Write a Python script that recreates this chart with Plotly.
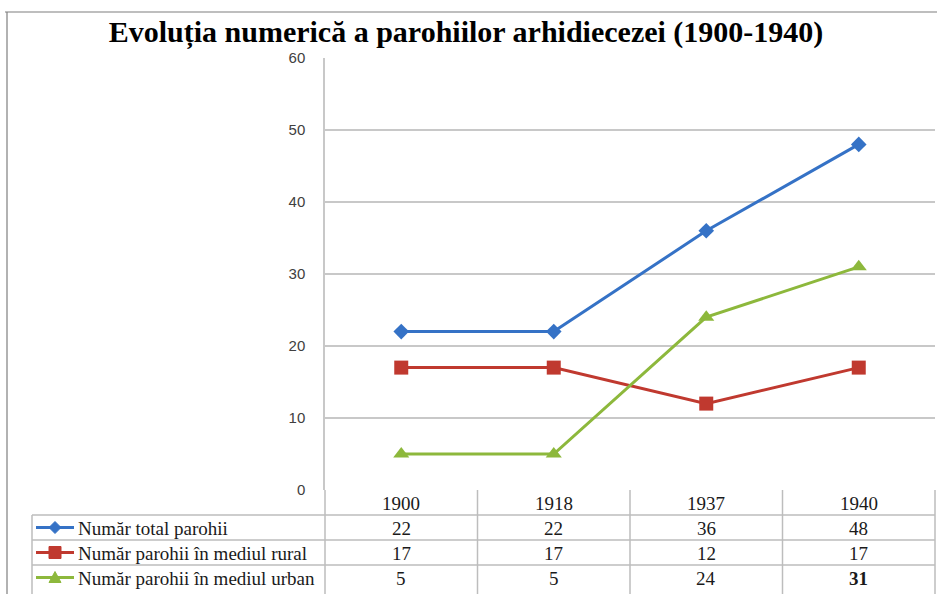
import plotly.graph_objects as go

categories = ["1900", "1918", "1937", "1940"]
series_names = ["Număr total parohii", "Număr parohii în mediul rural", "Număr parohii în mediul urban"]
total = [22, 22, 36, 48]
rural = [17, 17, 12, 17]
urban = [5, 5, 24, 31]
y_ticks = [0, 10, 20, 30, 40, 50, 60]

series = [total, rural, urban]
colors = ["#3572C6", "#C0392F", "#8DB83C"]
symbols = ["diamond", "square", "triangle-up"]
msizes = [12, 14, 14]

W, H = 937, 594
L, R, T, B = 325, 935, 58, 490  # plot area pixels
pw, ph = R - L, B - T

def px(x):
    return (x - L) / pw

def py(y):
    return (B - y) / ph

xpos = [i + 0.5 for i in range(len(categories))]

fig = go.Figure()
for name, vals, c, s, ms in zip(series_names, series, colors, symbols, msizes):
    fig.add_trace(go.Scatter(
        x=xpos, y=vals, mode="lines+markers", name=name,
        line=dict(color=c, width=3),
        marker=dict(symbol=s, size=ms, color=c),
        showlegend=False, cliponaxis=False,
    ))

row_h = 25
rows_top = [B + row_h * (i + 1) for i in range(3)]

shapes = []
gray = "#BDBDBD"
# outer frame
shapes.append(dict(type="line", xref="paper", yref="paper", x0=px(5), x1=px(937), y0=py(12), y1=py(12), line=dict(color="#7F7F7F", width=1.2)))
shapes.append(dict(type="line", xref="paper", yref="paper", x0=px(7), x1=px(7), y0=py(12), y1=py(594), line=dict(color="#7F7F7F", width=1.2)))
# table vertical lines
col_w = pw / len(categories)
for i in range(len(categories) + 1):
    xx = L + col_w * i
    shapes.append(dict(type="line", xref="paper", yref="paper", x0=px(xx), x1=px(xx), y0=py(B), y1=py(594), line=dict(color=gray, width=1.5)))
shapes.append(dict(type="line", xref="paper", yref="paper", x0=px(32), x1=px(32), y0=py(rows_top[0]), y1=py(594), line=dict(color=gray, width=1.5)))
for yy in rows_top:
    shapes.append(dict(type="line", xref="paper", yref="paper", x0=px(32), x1=px(R), y0=py(yy), y1=py(yy), line=dict(color=gray, width=1.5)))

# legend keys (line + marker) in the table
marker_paths = [
    "M 0 6 L 6 0 L 0 -6 L -6 0 Z",
    "M -6 -6 L 6 -6 L 6 6 L -6 6 Z",
    "M -6 -5 L 6 -5 L 0 6 Z",
]
for i, (c, p) in enumerate(zip(colors, marker_paths)):
    yc = py(rows_top[i] + row_h / 2)
    shapes.append(dict(type="line", xref="paper", yref="paper", x0=px(36), x1=px(74), y0=yc, y1=yc, line=dict(color=c, width=3)))
    shapes.append(dict(type="path", xref="paper", yref="paper", xsizemode="pixel", ysizemode="pixel",
                       xanchor=px(55), yanchor=yc, path=p, fillcolor=c, line=dict(color=c, width=1)))

annotations = []
tfont = dict(family="Liberation Serif", size=19, color="#1a1a1a")
for i, cat in enumerate(categories):
    annotations.append(dict(xref="paper", yref="paper", x=px(L + col_w * (i + 0.5)), y=py(B + row_h / 2 + 1),
                            text=cat, showarrow=False, font=tfont, xanchor="center", yanchor="middle"))
for r, (name, vals) in enumerate(zip(series_names, series)):
    yc = py(rows_top[r] + row_h / 2 + 1)
    annotations.append(dict(xref="paper", yref="paper", x=px(76), y=yc, text=name, showarrow=False,
                            font=tfont, xanchor="left", yanchor="middle"))
    for i, v in enumerate(vals):
        txt = f"<b>{v}</b>" if (r == 2 and i == 3) else str(v)
        annotations.append(dict(xref="paper", yref="paper", x=px(L + col_w * (i + 0.5)), y=yc,
                                text=txt, showarrow=False, font=tfont, xanchor="center", yanchor="middle"))

fig.update_layout(
    width=W, height=H,
    margin=dict(l=L, r=W - R, t=T, b=H - B),
    paper_bgcolor="white", plot_bgcolor="white",
    title=dict(text="<b>Evoluția numerică a parohiilor arhidiecezei (1900-1940)</b>",
               x=466 / W, xanchor="center", y=1 - 31 / H, yanchor="middle",
               font=dict(family="Liberation Serif", size=30, color="#000")),
    xaxis=dict(range=[0, len(categories)], showgrid=False, zeroline=False, showticklabels=False,
               showline=False, fixedrange=True),
    yaxis=dict(range=[0, 60], tickvals=y_ticks, showgrid=True, gridcolor="#C8C8C8", gridwidth=1.5,
               zeroline=False, showline=True, linecolor="#C8C8C8", linewidth=1.5,
               tickfont=dict(family="Liberation Sans", size=15, color="#404040"),
               ticks="", ticklabelstandoff=15),
    shapes=shapes, annotations=annotations,
)

fig.write_html("out.html", config={"displayModeBar": False},
               post_script="document.body.style.margin='0';document.body.style.padding='0';")
